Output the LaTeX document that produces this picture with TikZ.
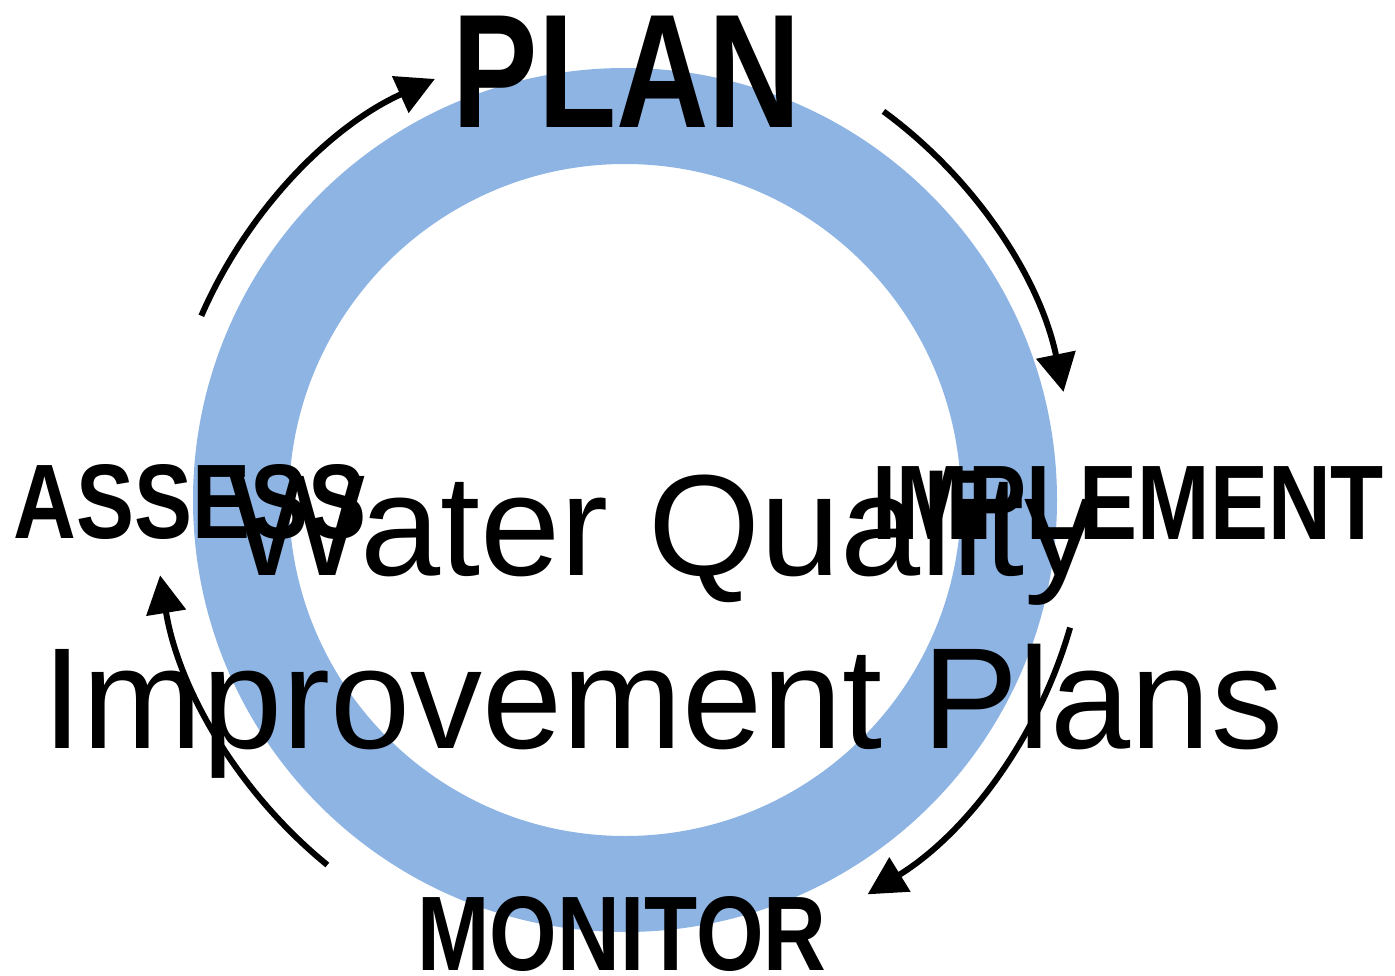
\documentclass[tikz,border=0pt]{standalone}
\usepackage{fontspec}
\setmainfont{Liberation Sans}
\newfontfamily\narrowbold[FakeStretch=0.82]{Liberation Sans Bold}
\newfontfamily\plannarrow[FakeStretch=0.79]{Liberation Sans Bold}
\usetikzlibrary{arrows.meta,calc}
\definecolor{ringblue}{HTML}{8EB4E3}
\tikzset{
  stagelabel/.style={inner sep=0pt, anchor=base, font=\narrowbold\fontsize{106}{120}\selectfont},
  biglabel/.style={inner sep=0pt, anchor=base, font=\plannarrow\fontsize{162}{170}\selectfont},
  titletext/.style={inner sep=0pt, anchor=base, font=\fontsize{144}{174}\selectfont},
  cyclearrow/.style={line width=6pt, -{Triangle[length=38pt,width=39pt]}}
}
\begin{document}
\begin{tikzpicture}[x=1pt,y=-1pt]
\useasboundingbox (0,0) rectangle (1395,976);
\coordinate (c) at (625,500);
\coordinate (c2) at (610,485);
\draw[ringblue, line width=96pt] (c) circle (384);
% labels
\node[biglabel] (plan) at (627,128) {PLAN};
\node[stagelabel] (assess) at (190,538) {ASSESS};
\node[stagelabel] (implement) at (1128,539) {IMPLEMENT};
\node[stagelabel] (monitor) at (622,970) {MONITOR};
\node[titletext] (title1) at (663,575) {Water Quality};
\node[titletext] (title2) at (663,748) {Improvement Plans};
% cycle arrows
\coordinate (a1) at ($(c)+(203.5:462)$);
\coordinate (a2) at ($(c2)+(306.2:463)$);
\coordinate (a3) at ($(c)+(16:463)$);
\coordinate (a4) at ($(c)+(129.2:471)$);
\draw[cyclearrow] (a1) arc[start angle=203.5, end angle=245.7, radius=462];
\draw[cyclearrow] (a2) arc[start angle=306.2, end angle=348.4, radius=463];
\draw[cyclearrow] (a3) arc[start angle=16, end angle=58.4, radius=463];
\draw[cyclearrow] (a4) arc[start angle=129.2, end angle=170.8, radius=471];
\end{tikzpicture}
\end{document}
